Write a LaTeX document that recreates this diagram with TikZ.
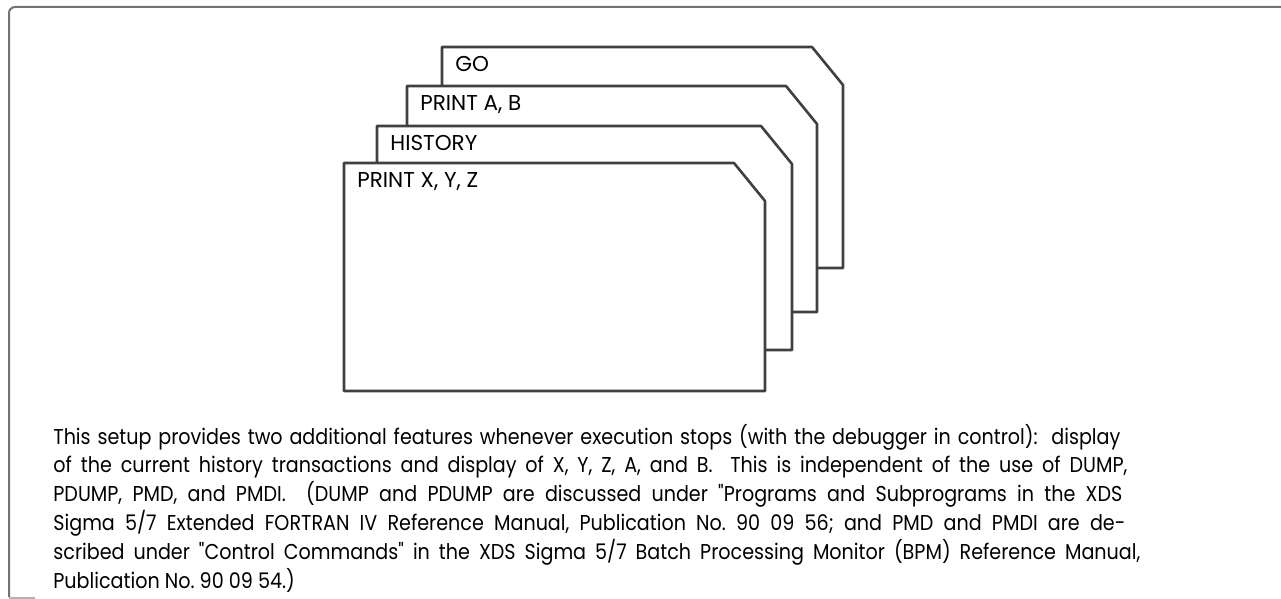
\documentclass[tikz,border=0pt]{standalone}
\usepackage{fontspec}
\setmainfont{Poppins}
\newfontfamily\notefont{Poppins}[FakeStretch=0.89, Ligatures=TeXOff]
\newcommand\noteline[2]{\makebox[#1][s]{#2}}
\frenchspacing
\usetikzlibrary{positioning}

\begin{document}
\begin{tikzpicture}
[x=0.5pt, y=-0.5pt]
\tikzset{
	frame/.style = {draw=black!55, line width=1pt},
	card/.style = {draw=black!75, fill=white, line width=1.3pt, line join=round},
	cardtext/.style = {anchor=base west, inner sep=0, font=\fontsize{10.75}{13}\selectfont},
	caption/.style = {anchor=base west, inner sep=0, align=left, font=\notefont\fontsize{10.75}{14.4}\selectfont}
}
\useasboundingbox (0,0) rectangle (1281,599);

\draw[frame, rounded corners=3pt] (1281,7) -- (9,7) -- (9,597);
\draw[draw=black!30, line width=0.6pt] (9,598) -- (35,598);

\foreach \l/\t/\r/\b/\name/\txt in {
	442/47/843/268/go/{GO},
	407/86/817/312/printab/{PRINT A,\ B},
	377/126/792/350/history/{HISTORY},
	344/163/765/391/printxyz/{PRINT X,\ Y,\ Z}}{
	\draw[card] (\l,\t) -- (\r-31,\t) -- (\r,\t+38) -- (\r,\b) -- (\l,\b) -- cycle;
	\node[cardtext] (\name) at (\l+13,\t+25) {\txt};
}

% the last line sits on the base anchor
\node[caption] (note) at (53,588) {%
\noteline{533.5pt}{This setup provides two additional features whenever execution stops (with the debugger in control):\ \ display}\\
\noteline{537pt}{of the current history transactions and display of X, Y, Z, A, and B.\ \ This is independent of the use of DUMP,}\\
\noteline{534.5pt}{PDUMP, PMD, and PMDI.\ \ (DUMP and PDUMP are discussed under "Programs and Subprograms in the XDS}\\
\noteline{536pt}{Sigma 5/7 Extended FORTRAN IV Reference Manual, Publication No. 90 09 56; and PMD and PMDI are de-}\\
\noteline{543.5pt}{scribed under "Control Commands" in the XDS Sigma 5/7 Batch Processing Monitor (BPM) Reference Manual,}\\
Publication No. 90 09 54.)};

\end{tikzpicture}
\end{document}
